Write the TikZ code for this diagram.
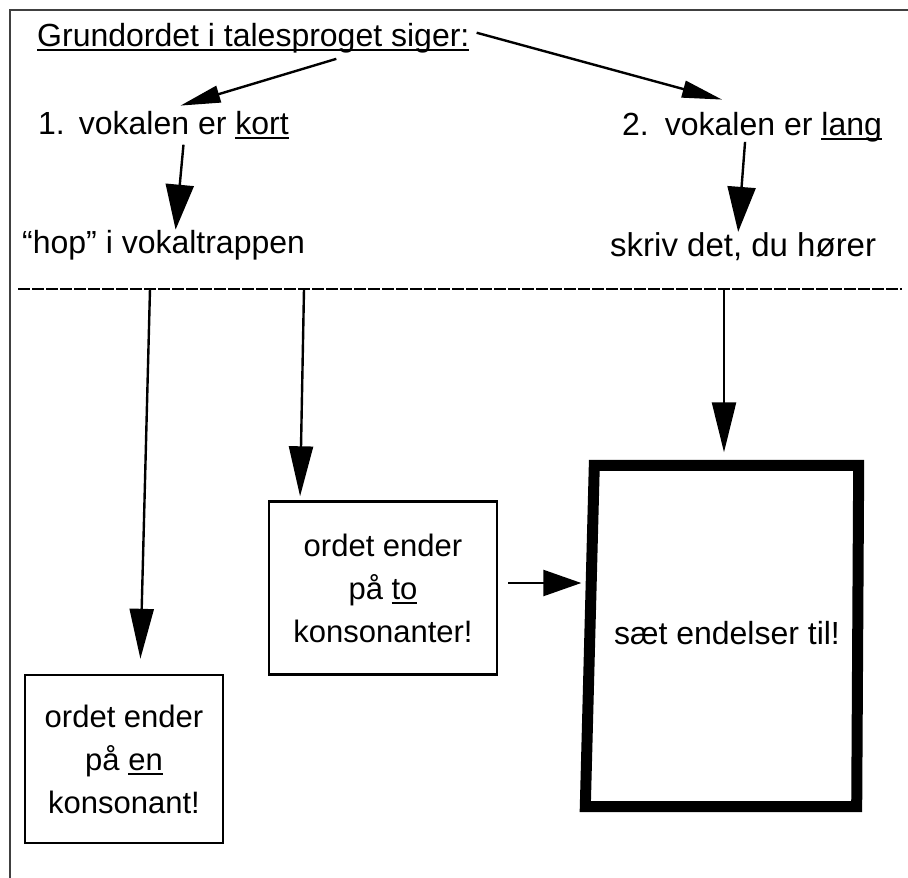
\documentclass[tikz,border=0pt]{standalone}
\usepackage{fontspec}
\setmainfont{Liberation Sans}
\usetikzlibrary{arrows.meta}
\newcommand\myul[1]{\setbox0\hbox{#1}\rlap{\rule[-4.5pt]{\wd0}{1.6pt}}\box0}
\begin{document}
\begin{tikzpicture}[x=1pt,y=-1pt,
  every node/.style={inner sep=0pt},
  txt/.style={font=\fontsize{32}{38}\selectfont, anchor=base west},
  boxtxt/.style={draw, line width=2.4pt, align=center, font=\fontsize{31}{43}\selectfont},
  bigbox/.style={align=center, font=\fontsize{32}{40}\selectfont},
  bigline/.style={line width=11pt, line join=miter},
  conn/.style={line width=2.4pt},
  diaghead/.style={conn, -{Triangle[length=40pt,width=17pt]}},
  downhead/.style={conn, -{Triangle[length=45pt,width=28pt]}},
  lowhead/.style={conn, -{Triangle[length=50pt,width=24pt]}},
  sidehead/.style={conn, -{Triangle[length=38pt,width=26pt]}},
  frameline/.style={line width=1.6pt, black!75},
  sepline/.style={line width=2pt, dash pattern=on 12pt off 2pt}
]
\useasboundingbox (0,0) rectangle (908,878);

% frame
\draw[frameline] (10,878) -- (10,10) -- (908,10);

% texts
\node[txt] (title) at (37,46) {\myul{Grundordet i talesproget siger:}};
\node[txt] (k1) at (38,134) {1.\hspace{14pt}vokalen er \myul{kort}};
\node[txt] (l2) at (622,135) {2.\hspace{16pt}vokalen er \myul{lang}};
\node[txt] (hop) at (22,253) {“hop” i vokaltrappen};
\node[txt, font=\fontsize{33}{38}\selectfont] (skriv) at (610,256) {skriv det, du hører};

% separator
\coordinate (dl) at (18,289);
\coordinate (dr) at (902,289);
\draw[sepline] (dl) -- (dr);
\coordinate (dA) at (150,289);
\coordinate (dB) at (304,289);
\coordinate (dC) at (724,289);

% boxes
\node[boxtxt, minimum width=198pt, minimum height=168pt] (box1) at (124,759)
  {ordet ender\\på \myul{en}\\konsonant!};
\node[boxtxt, minimum width=228pt, minimum height=173pt] (box2) at (383,588)
  {ordet ender\\på \myul{to}\\konsonanter!};
\node[bigbox, minimum width=267pt, minimum height=341pt] (box3) at (727,636)
  {\raisebox{6pt}{sæt endelser til!}};
\draw[bigline] ([xshift=1pt]box3.north west) -- ([xshift=-2pt]box3.north east)
  -- ([xshift=-4pt]box3.south east) -- ([xshift=-8pt]box3.south west) -- cycle;

% upper arrows
\draw[diaghead] ([xshift=83pt,yshift=-6pt]title.south) -- ([xshift=17pt,yshift=5pt]k1.north);
\draw[diaghead] ([xshift=7pt,yshift=5pt]title.east) -- ([xshift=-30pt,yshift=12pt]l2.north);
\draw[downhead] ([xshift=20pt,yshift=-6pt]k1.south) -- ([xshift=12pt]hop.north);
\draw[downhead] ([xshift=-7pt]l2.south) -- ([xshift=-5pt]skriv.north);

% lower arrows
\draw[lowhead, shorten >=15pt] (dA) -- ([xshift=16pt]box1.north);
\draw[lowhead, shorten >=4pt] (dB) -- ([xshift=-83pt]box2.north);
\draw[lowhead, shorten >=13pt] (dC) -- ([xshift=-3pt]box3.north);
\draw[sidehead, shorten <=10pt, shorten >=12pt] ([yshift=5pt]box2.east) -- ([yshift=5pt]box2.east -| box3.west);
\end{tikzpicture}
\end{document}
